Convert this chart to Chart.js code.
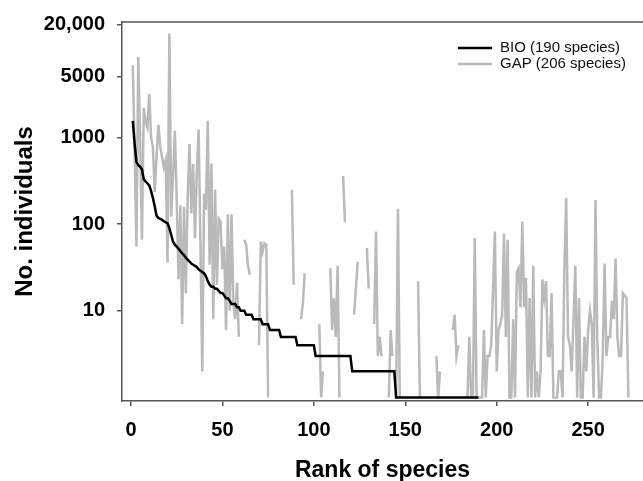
<!DOCTYPE html>
<html>
<head>
<meta charset="utf-8">
<script src="https://cdn.jsdelivr.net/npm/chart.js@4.4.1/dist/chart.umd.min.js"></script>
<style>
  body { margin: 0; background: #fff; }
</style>
</head>
<body>
<canvas id="rankChart" width="643" height="481"></canvas>
<script>
// rank-abundance values, index 0 = rank 1
const bioCounts = [
    1550, 850, 520, 480, 460, 430, 330, 310, 295, 280,
    240, 200, 160, 125, 118, 115, 112, 108, 105, 102,
    90, 75, 63, 58, 55, 52, 49, 46, 44, 41,
    39, 37, 35, 34, 33, 32, 30, 29, 28, 27,
    25, 22, 20, 19, 19, 18, 18, 17, 16, 16,
    15, 14, 14, 13, 12, 12, 12, 11, 11, 10,
    10, 10, 9, 9, 9, 9, 8, 8, 8, 8,
    8, 7, 7, 7, 7, 6, 6, 6, 6, 6,
    6, 5, 5, 5, 5, 5, 5, 5, 5, 5,
    4, 4, 4, 4, 4, 4, 4, 4, 4, 4,
    3, 3, 3, 3, 3, 3, 3, 3, 3, 3,
    3, 3, 3, 3, 3, 3, 3, 3, 3, 3,
    2, 2, 2, 2, 2, 2, 2, 2, 2, 2,
    2, 2, 2, 2, 2, 2, 2, 2, 2, 2,
    2, 2, 2, 2, 1, 1, 1, 1, 1, 1,
    1, 1, 1, 1, 1, 1, 1, 1, 1, 1,
    1, 1, 1, 1, 1, 1, 1, 1, 1, 1,
    1, 1, 1, 1, 1, 1, 1, 1, 1, 1,
    1, 1, 1, 1, 1, 1, 1, 1, 1, 1
];

// null = species not caught in GAP
const gapCounts = [
    6800, 700, 55, 8500, 1000, 66, 2200, 1500, 1300, 3200,        // 1-10
    1000, 770, 235, 600, 1400, 800, 590, 455, 550, 36,            // 11-20
    15800, 122, 350, 1200, 200, 23, 165, 7, 158, 16,              // 21-30
    200, 840, 133, 495, 69, 400, 1240, 60, 2, 225,                // 31-40
    147, 1560, 34, 500, 8, 250, 20, 115, 107, 30,                 // 41-50
    55, 6, 130, 10, 130, 12, 8, 21, 5, null,                      // 51-60
    null, 66, 58, 33, 26, null, null, null, null, 4,              // 61-70
    63, 48, 60, 58, 1, null, null, null, null, null,              // 71-80
    null, null, null, null, null, null, null, 250, 20, null,      // 81-90
    null, null, 8, 12, 27, null, null, null, null, null,          // 91-100
    null, null, 7, 1, 2, null, null, null, 31, 6,                 // 101-110
    14, 5, 33, 1, null, 360, 105, null, null, null,               // 111-120
    null, 9, 18, 37, null, null, null, null, 53, 18,              // 121-130
    null, null, 7, 82, 3, 5, 3, null, null, null,                 // 131-140
    1, 6, 3, null, 1, 150, 1, null, null, null,                   // 141-150
    null, null, null, null, null, null, 22, 1, null, null,        // 151-160
    null, null, null, null, null, null, 3, 1, 2, null,            // 161-170
    null, null, null, null, null, 6, 9, 3, 4, null,               // 171-180
    null, null, null, 1, 5, 1, 1, 69, 1, 1,                       // 181-190
    1, 1, 6, 1, 3, 3, 4, 18, 82, 2,                               // 191-200
    6, 7, 9, 78, 5, 66, 1, 1, 8, 1,                               // 201-210
    28, 31, 11, 107, 11, 24, 1, 14, 1, 33,                        // 211-220
    1, 2, 1, 2, 23, 14, 22, 3, 3, 16,                             // 221-230
    1, 1, 1, 2, 2, 1, 30, 200, 5, 4,                              // 231-240
    2, 8, 33, 1, 14, 1, 1, 5, 2, 6,                               // 241-250
    10, 7, 1, 190, 5, 1, 1, 3, 35, 3,                             // 251-260
    5, 5, 13, 8, 40, 5, 3, 3, 16, 15,                             // 261-270
    14, 1                                                          // 271-272
];

const seriesNames = ['BIO (190 species)', 'GAP (206 species)'];
const seriesColors = ['#000000', '#bababa'];
const xTicks = [0, 50, 100, 150, 200, 250];
const yTicks = [10, 100, 1000, 5000, 20000];
const yTickLabels = ['10', '100', '1000', '5000', '20,000'];

const fontFamily = "'Liberation Sans', Arial, sans-serif";
const axisColor = '#555555';

function toPoints(counts){
    return counts.map((v, i) => ({x: i + 1, y: v}));
}

// top frame line
const frameTop = {
    id: 'frameTop',
    afterDraw(chart){
        const {ctx, chartArea} = chart;
        ctx.save();
        ctx.strokeStyle = axisColor;
        ctx.lineWidth = 1.5;
        ctx.beginPath();
        ctx.moveTo(chartArea.left, chartArea.top);
        ctx.lineTo(chartArea.right, chartArea.top);
        ctx.stroke();
        ctx.restore();
    }
};

// legend in the upper right corner
const cornerLegend = {
    id: 'cornerLegend',
    afterDraw(chart){
        const ctx = chart.ctx;
        ctx.save();
        ctx.font = '15px ' + fontFamily;
        ctx.textBaseline = 'middle';
        ctx.textAlign = 'left';
        chart.data.datasets.forEach((ds, i) => {
            const y = 48 + i * 16;
            ctx.strokeStyle = ds.borderColor;
            ctx.lineWidth = 2.5;
            ctx.beginPath();
            ctx.moveTo(458, y);
            ctx.lineTo(492, y);
            ctx.stroke();
            ctx.fillStyle = '#111';
            ctx.fillText(ds.label, 500, y);
        });
        ctx.restore();
    }
};

const ctx = document.getElementById('rankChart').getContext('2d');
new Chart(ctx, {
    type: 'line',
    data: {
        datasets: [{
            label: seriesNames[0],
            data: toPoints(bioCounts),
            borderColor: seriesColors[0],
            borderWidth: 2.5
        }, {
            label: seriesNames[1],
            data: toPoints(gapCounts),
            borderColor: seriesColors[1],
            borderWidth: 2.5
        }]
    },
    options: {
        responsive: false,
        animation: false,
        devicePixelRatio: 1,
        spanGaps: false,
        elements: {
            point: { radius: 0 },
            line: { tension: 0 }
        },
        layout: { padding: { top: 18, right: 0, bottom: 0, left: 0 } },
        plugins: {
            legend: { display: false },
            tooltip: { enabled: false }
        },
        scales: {
            x: {
                type: 'linear',
                min: -4.9,
                max: 280,
                afterBuildTicks: scale => { scale.ticks = xTicks.map(v => ({value: v})); },
                afterFit: scale => { scale.height = 80; },
                grid: { drawOnChartArea: false, drawTicks: true, tickLength: 5, color: axisColor, lineWidth: 1.5 },
                border: { display: true, color: axisColor, width: 1.5 },
                ticks: {
                    autoSkip: false,
                    maxRotation: 0,
                    padding: 12,
                    color: '#000',
                    font: { family: fontFamily, size: 20, weight: 'bold' }
                },
                title: {
                    display: true,
                    text: 'Rank of species',
                    color: '#000',
                    padding: { top: 0, bottom: 0 },
                    font: { family: fontFamily, size: 23, weight: 'bold', lineHeight: 0.88 }
                }
            },
            y: {
                type: 'logarithmic',
                min: 0.91,
                max: 21500,
                afterBuildTicks: scale => { scale.ticks = yTicks.map(v => ({value: v})); },
                afterFit: scale => { scale.width = 122; },
                grid: { drawOnChartArea: false, drawTicks: true, tickLength: 5, color: axisColor, lineWidth: 1.5 },
                border: { display: true, color: axisColor, width: 1.5 },
                ticks: {
                    autoSkip: false,
                    padding: 12,
                    color: '#000',
                    font: { family: fontFamily, size: 20, weight: 'bold', lineHeight: 1 },
                    callback: value => {
                        const k = yTicks.indexOf(value);
                        return k >= 0 ? yTickLabels[k] : '';
                    }
                },
                title: {
                    display: true,
                    text: 'No. individuals',
                    color: '#000',
                    padding: { top: 13, bottom: 0 },
                    font: { family: fontFamily, size: 24, weight: 'bold', lineHeight: 1 }
                }
            }
        }
    },
    plugins: [frameTop, cornerLegend]
});
</script>
</body>
</html>
